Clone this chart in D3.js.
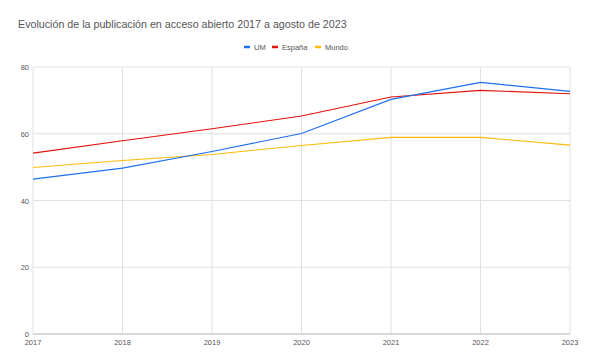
<!DOCTYPE html>
<html>
<head>
<meta charset="utf-8">
<script src="https://cdn.jsdelivr.net/npm/d3@7"></script>
<style>
  body { margin: 0; background: #fff; }
  text { font-family: "Liberation Sans", Arial, sans-serif; }
</style>
</head>
<body>
<script>
const years = [2017, 2018, 2019, 2020, 2021, 2022, 2023];
const um = [46.4, 49.7, 54.7, 60.1, 70.3, 75.4, 72.7];
const espana = [54.2, 57.9, 61.5, 65.3, 71.0, 73.0, 72.0];
const mundo = [49.9, 52.0, 53.8, 56.5, 58.9, 58.9, 56.6];
const yTicks = [0, 20, 40, 60, 80];
const seriesNames = ["UM", "España", "Mundo"];
const colors = ["#1f6ff2", "#e3120b", "#fbbc04"];

const width = 589;
const height = 364;
const margin = { left: 33, right: 19, top: 67, bottom: 30 };

const svg = d3.select("body").append("svg")
    .attr("width", width)
    .attr("height", height);

const x = d3.scaleLinear()
    .domain(d3.extent(years))
    .range([margin.left, width - margin.right]);

const y = d3.scaleLinear()
    .domain([0, 80])
    .range([height - margin.bottom, margin.top]);

// title
svg.append("text")
    .attr("x", 18)
    .attr("y", 28)
    .attr("font-size", 10.7)
    .attr("fill", "#555")
    .text("Evolución de la publicación en acceso abierto 2017 a agosto de 2023");

// grid
svg.append("g")
    .selectAll("line")
    .data(yTicks.filter(d => d !== 0))
    .join("line")
    .attr("x1", margin.left)
    .attr("x2", width - margin.right)
    .attr("y1", d => y(d))
    .attr("y2", d => y(d))
    .attr("stroke", "#e0e0e0");

svg.append("g")
    .selectAll("line")
    .data(years)
    .join("line")
    .attr("x1", d => x(d))
    .attr("x2", d => x(d))
    .attr("y1", y(80))
    .attr("y2", y(0))
    .attr("stroke", "#e0e0e0");

// y labels
svg.append("g")
    .selectAll("text")
    .data(yTicks)
    .join("text")
    .attr("x", margin.left - 4)
    .attr("y", d => y(d) + 3)
    .attr("text-anchor", "end")
    .attr("font-size", 7.5)
    .attr("fill", "#555")
    .text(d => d);

// x labels
svg.append("g")
    .selectAll("text")
    .data(years)
    .join("text")
    .attr("x", d => x(d))
    .attr("y", y(0) + 11)
    .attr("text-anchor", "middle")
    .attr("font-size", 7.5)
    .attr("fill", "#555")
    .text(d => d);

// baseline
svg.append("line")
    .attr("x1", margin.left)
    .attr("x2", width - margin.right)
    .attr("y1", y(0))
    .attr("y2", y(0))
    .attr("stroke", "#cccccc")
    .attr("stroke-width", 1.5);

const line = d3.line()
    .x((d, i) => x(years[i]))
    .y(d => y(d));

// draw Mundo first, then España, then UM on top
const series = [um, espana, mundo];
[2, 1, 0].forEach(i => {
    svg.append("path")
        .datum(series[i])
        .attr("d", line)
        .attr("fill", "none")
        .attr("stroke", colors[i])
        .attr("stroke-width", 1.1);
});

// legend
const legendX = [244, 272, 315];
const legend = svg.append("g")
    .selectAll("g")
    .data(seriesNames)
    .join("g")
    .attr("transform", (d, i) => `translate(${legendX[i]}, 47)`);

legend.append("line")
    .attr("x1", 0)
    .attr("x2", 6)
    .attr("stroke", (d, i) => colors[i])
    .attr("stroke-width", 2.5);

legend.append("text")
    .attr("x", 10)
    .attr("y", 3)
    .attr("font-size", 7.5)
    .attr("fill", "#555")
    .text(d => d);
</script>
</body>
</html>
